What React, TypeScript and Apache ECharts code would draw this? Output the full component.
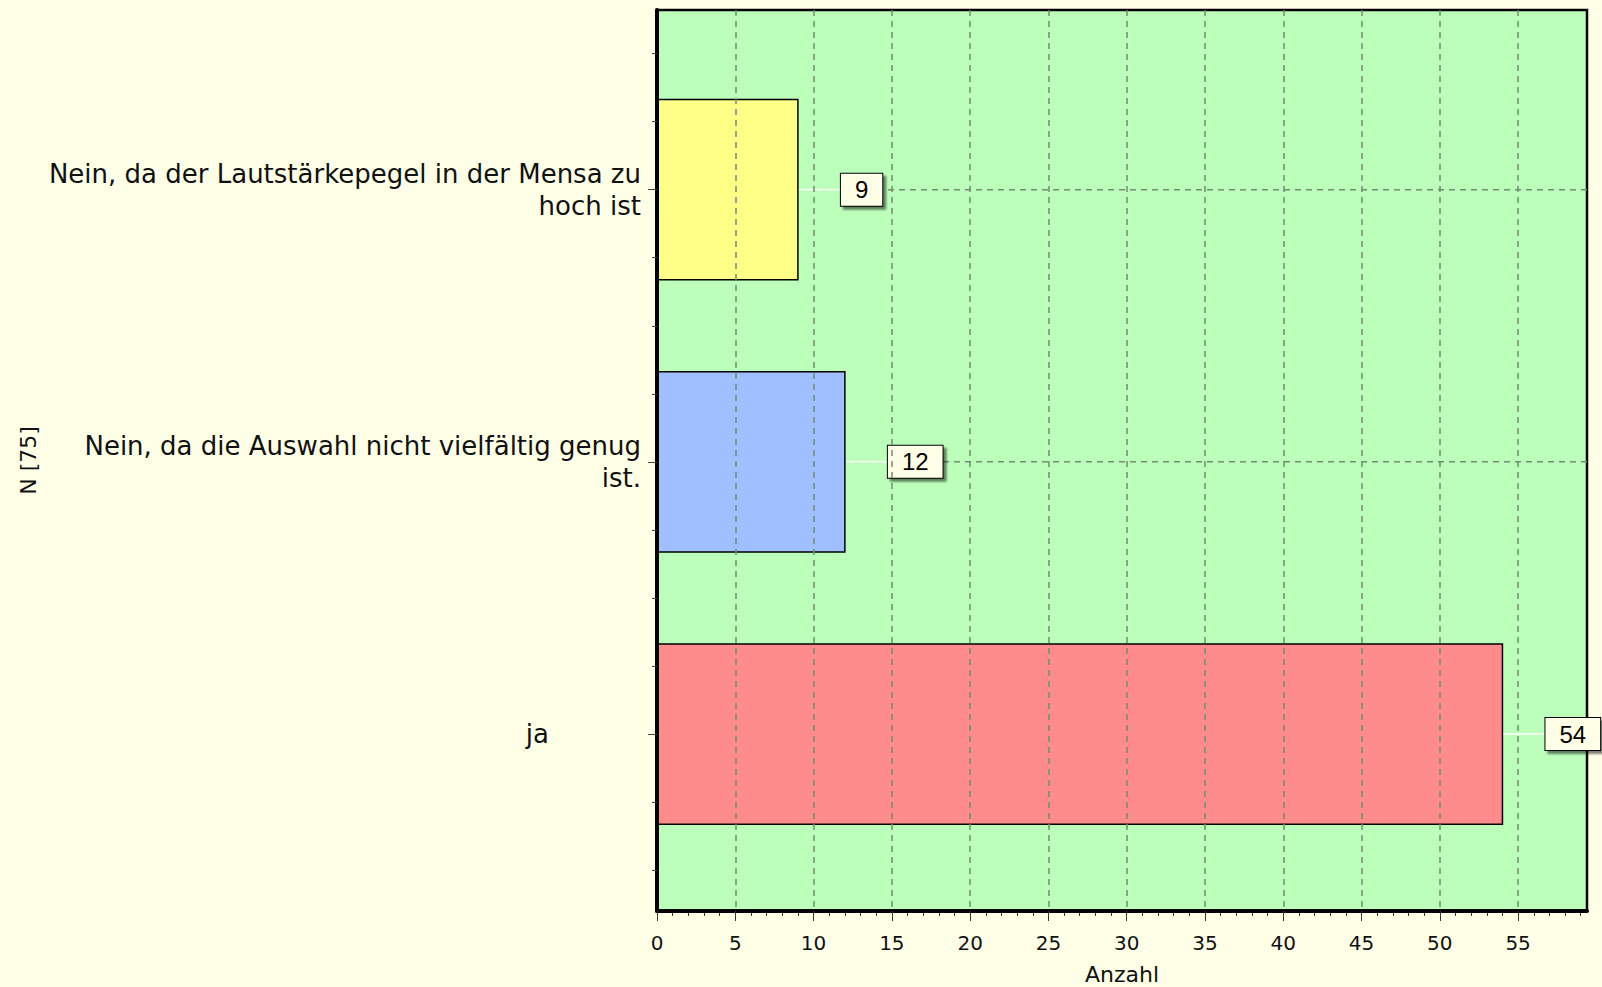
import React, { useEffect, useRef } from 'react';
import * as echarts from 'echarts';

const categories = [
  'ja',
  'Nein, da die Auswahl nicht vielfältig genug\nist.',
  'Nein, da der Lautstärkepegel in der Mensa zu\nhoch ist',
];
const categoryPositions = [0, 1, 2];
const values = [54, 12, 9];
const barColors = ['#FF8C8C', '#A0BFFF', '#FFFF88'];
const xTickLabels = [0, 5, 10, 15, 20, 25, 30, 35, 40, 45, 50, 55];
const xMinorTicks = [
  0, 1, 2, 3, 4, 5, 6, 7, 8, 9, 10, 11, 12, 13, 14, 15, 16, 17, 18, 19, 20, 21, 22, 23, 24, 25, 26, 27, 28, 29,
  30, 31, 32, 33, 34, 35, 36, 37, 38, 39, 40, 41, 42, 43, 44, 45, 46, 47, 48, 49, 50, 51, 52, 53, 54, 55, 56, 57, 58, 59,
];
const yMinorTicks = [-0.5, -0.25, 0, 0.25, 0.5, 0.75, 1, 1.25, 1.5, 1.75, 2, 2.25, 2.5];
const xMax = 59.4;
const yMin = -0.65;
const yMax = 2.66;

const gridColor = '#728c72';

export default function App() {
  const ref = useRef<HTMLDivElement>(null);
  useEffect(() => {
    if (!ref.current) return;
    const chart = echarts.init(ref.current, null, { renderer: 'svg' });
    const option: any = {
      animation: false,
      backgroundColor: '#FFFFE8',
      grid: {
        left: 657,
        top: 10,
        right: 15,
        bottom: 76,
        show: true,
        backgroundColor: '#BBFFBB',
        borderColor: '#000',
        borderWidth: 2.5,
        containLabel: false,
        outerBoundsMode: 'none',
      },
      xAxis: [
        {
          type: 'value',
          min: 0,
          max: xMax,
          z: 5,
          name: 'Anzahl',
          nameLocation: 'middle',
          nameGap: 52,
          nameTextStyle: { fontFamily: 'DejaVu Sans', fontSize: 22, color: '#111' },
          axisLine: { show: true, onZero: false, lineStyle: { color: '#000', width: 4 } },
          axisTick: { show: true, customValues: xTickLabels, length: 10, lineStyle: { color: '#333', width: 1 } },
          axisLabel: {
            customValues: xTickLabels,
            margin: 22,
            fontFamily: 'DejaVu Sans',
            fontSize: 20,
            color: '#111',
          },
          splitLine: {
            show: true,
            showMinLine: false,
            lineStyle: { color: gridColor, width: 1.5, type: [6, 5] },
          },
        },
        {
          type: 'value',
          min: 0,
          max: xMax,
          position: 'bottom',
          axisLine: { show: false, onZero: false },
          axisTick: { show: true, customValues: xMinorTicks, length: 5, lineStyle: { color: '#333', width: 1 } },
          axisLabel: { show: false },
          splitLine: { show: false },
        },
      ],
      yAxis: [
        {
          type: 'value',
          min: yMin,
          max: yMax,
          z: 5,
          name: 'N [75]',
          nameLocation: 'middle',
          nameGap: 618,
          nameRotate: 90,
          nameTextStyle: { fontFamily: 'DejaVu Sans', fontSize: 22, color: '#111' },
          axisLine: { show: true, onZero: false, lineStyle: { color: '#000', width: 4 } },
          axisTick: { show: true, customValues: yMinorTicks, length: 5, lineStyle: { color: '#444', width: 1 } },
          axisLabel: { show: false },
          splitLine: { show: false },
        },
        {
          type: 'value',
          min: yMin,
          max: yMax,
          position: 'left',
          axisLine: { show: false, onZero: false },
          axisTick: { show: true, customValues: categoryPositions, length: 9, lineStyle: { color: '#444', width: 1 } },
          axisLabel: {
            customValues: categoryPositions,
            margin: 16,
            fontFamily: 'DejaVu Sans',
            fontSize: 26,
            lineHeight: 32,
            color: '#111',
            align: 'right',
            formatter: (v: number) => {
              const name = categories[Math.round(v)];
              return Math.round(v) === 0 ? '{ja|' + name + '}' : name;
            },
            rich: {
              ja: { fontFamily: 'DejaVu Sans', fontSize: 26, color: '#111', padding: [0, 92, 0, 0] },
            },
          },
          splitLine: { show: false },
        },
      ],
      series: [
        {
          type: 'custom',
          xAxisIndex: 0,
          yAxisIndex: 0,
          clip: false,
          z: 2,
          data: values.map((v, i) => [v, categoryPositions[i]]),
          renderItem: (params: any, api: any) => {
            const v = api.value(0);
            const c = api.value(1);
            const i = params.dataIndex;
            const p0 = api.coord([0, c]);
            const p1 = api.coord([v, c]);
            const band = api.size([0, 1])[1];
            const h = band * 0.662;
            const cs = params.coordSys;
            const gap = 43;
            return {
              type: 'group',
              children: [
                {
                  type: 'line',
                  shape: { x1: cs.x, y1: p0[1], x2: cs.x + cs.width, y2: p0[1] },
                  style: { stroke: gridColor, lineWidth: 1.5, lineDash: [6, 5] },
                },
                {
                  type: 'rect',
                  shape: { x: p0[0], y: p0[1] - h / 2, width: p1[0] - p0[0], height: h },
                  style: { fill: barColors[i], stroke: '#000', lineWidth: 1.5 },
                },
                {
                  type: 'line',
                  shape: { x1: p1[0] + 1, y1: p1[1], x2: p1[0] + gap, y2: p1[1] },
                  style: { stroke: '#EEFFEE', lineWidth: 2 },
                },
                {
                  type: 'text',
                  x: p1[0] + gap,
                  y: p1[1],
                  style: {
                    text: String(v),
                    align: 'left',
                    verticalAlign: 'middle',
                    fontFamily: 'Liberation Sans',
                    fontSize: 24,
                    fill: '#000',
                    backgroundColor: '#FFFFE8',
                    borderColor: '#000',
                    borderWidth: 1,
                    padding: [4, 14, 4, 14],
                    shadowColor: 'rgba(0,0,0,0.5)',
                    shadowOffsetX: 3,
                    shadowOffsetY: 3,
                    shadowBlur: 2,
                  },
                },
              ],
            };
          },
        },
      ],
    };
    chart.setOption(option);
    return () => chart.dispose();
  }, []);
  return (
    <div
      ref={ref}
      style={{ position: 'absolute', left: 0, top: 0, width: 1602, height: 987 }}
    />
  );
}
